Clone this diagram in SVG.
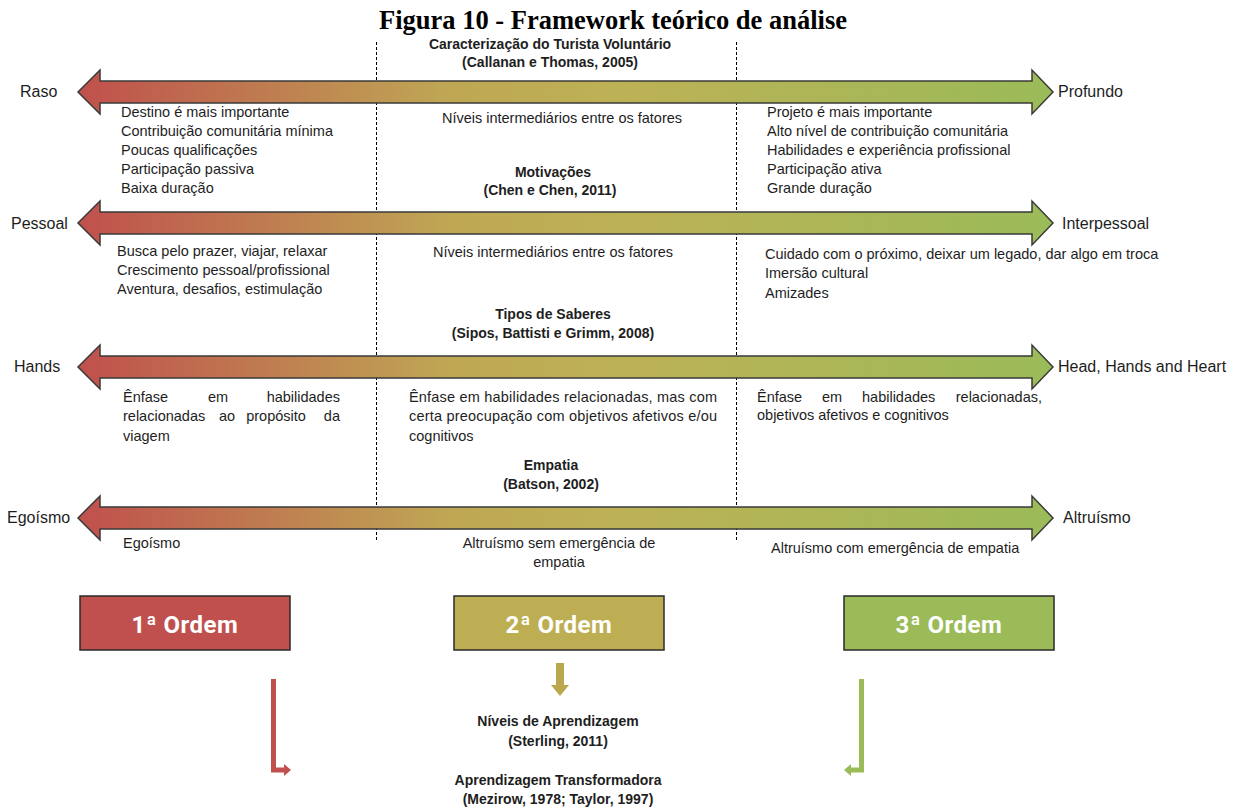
<svg xmlns="http://www.w3.org/2000/svg" width="1243" height="812" viewBox="0 0 1243 812">
  <defs>
    <!-- shared red→ochre→green fill for the four scale axes -->
    <linearGradient id="axisGrad" gradientUnits="userSpaceOnUse" x1="78" y1="0" x2="1053" y2="0">
      <stop offset="0" stop-color="#C0504D"/>
      <stop offset="0.38" stop-color="#BFA754"/>
      <stop offset="0.55" stop-color="#BDB155"/>
      <stop offset="1" stop-color="#9BBB59"/>
    </linearGradient>
    <style>
      .axis { fill: url(#axisGrad); stroke: #3a3a3a; stroke-width: 1.5; stroke-linejoin: miter; }
      .t { font-family: "Liberation Sans", Arial, sans-serif; font-size: 14.5px; fill: #1e1e1e; }
      .side { font-family: "Liberation Sans", Arial, sans-serif; font-size: 16px; fill: #1e1e1e; }
      .h { font-family: "Liberation Sans", Arial, sans-serif; font-size: 14px; font-weight: bold; fill: #1e1e1e; text-anchor: middle; }
      .c { text-anchor: middle; }
      .e { text-anchor: end; }
      .title { font-family: "Liberation Serif", "Times New Roman", serif; font-size: 26.5px; font-weight: bold; fill: #000; text-anchor: middle; }
      .box { stroke: #2a2a2a; stroke-width: 1.5; }
      .boxlabel { font-family: Roboto, "Liberation Sans", Arial, sans-serif; font-size: 24px; font-weight: bold; fill: #ffffff; text-anchor: middle; letter-spacing: 0.5px; }
      .divider { stroke: #000; stroke-width: 1; stroke-dasharray: 3 2; fill: none; }
    </style>
  </defs>

  <rect width="1243" height="812" fill="#ffffff"/>

  <text class="title" x="613" y="29">Figura 10 - Framework teórico de análise</text>

  <!-- column dividers -->
  <g id="dividers">
    <line class="divider" x1="376.5" y1="42" x2="376.5" y2="540"/>
    <line class="divider" x1="736.5" y1="42" x2="736.5" y2="540"/>
  </g>

  <!-- Axis 1: tourist characterisation -->
  <g id="axis-caracterizacao">
    <text class="h" x="550" y="49">Caracterização do Turista Voluntário</text>
    <text class="h" x="550" y="67">(Callanan e Thomas, 2005)</text>
    <path class="axis" d="M78,92 L100,70 L100,81 L1032,81 L1032,70 L1053,92 L1032,114 L1032,103 L100,103 L100,114 Z"/>
    <text class="side" x="20" y="97">Raso</text>
    <text class="side" x="1058" y="97">Profundo</text>
    <text class="t" x="121" y="117">Destino é mais importante</text>
    <text class="t" x="121" y="136">Contribuição comunitária mínima</text>
    <text class="t" x="121" y="155">Poucas qualificações</text>
    <text class="t" x="121" y="174">Participação passiva</text>
    <text class="t" x="121" y="193">Baixa duração</text>
    <text class="t c" x="562" y="123">Níveis intermediários entre os fatores</text>
    <text class="t" x="767" y="117">Projeto é mais importante</text>
    <text class="t" x="767" y="136">Alto nível de contribuição comunitária</text>
    <text class="t" x="767" y="155">Habilidades e experiência profissional</text>
    <text class="t" x="767" y="174">Participação ativa</text>
    <text class="t" x="767" y="193">Grande duração</text>
  </g>

  <!-- Axis 2: motivations -->
  <g id="axis-motivacoes">
    <text class="h" x="553" y="177">Motivações</text>
    <text class="h" x="550" y="195">(Chen e Chen, 2011)</text>
    <path class="axis" d="M78,223 L100,201 L100,212 L1032,212 L1032,201 L1053,223 L1032,245 L1032,234 L100,234 L100,245 Z"/>
    <text class="side" x="11" y="229">Pessoal</text>
    <text class="side" x="1062" y="229">Interpessoal</text>
    <text class="t" x="117" y="256">Busca pelo prazer, viajar, relaxar</text>
    <text class="t" x="117" y="275">Crescimento pessoal/profissional</text>
    <text class="t" x="117" y="294">Aventura, desafios, estimulação</text>
    <text class="t c" x="553" y="257">Níveis intermediários entre os fatores</text>
    <text class="t" x="765" y="259">Cuidado com o próximo, deixar um legado, dar algo em troca</text>
    <text class="t" x="765" y="278">Imersão cultural</text>
    <text class="t" x="765" y="298">Amizades</text>
  </g>

  <!-- Axis 3: types of knowledge -->
  <g id="axis-saberes">
    <text class="h" x="553" y="319">Tipos de Saberes</text>
    <text class="h" x="553" y="338">(Sipos, Battisti e Grimm, 2008)</text>
    <path class="axis" d="M78,367 L100,345 L100,356 L1032,356 L1032,345 L1053,367 L1032,389 L1032,378 L100,378 L100,389 Z"/>
    <text class="side" x="14" y="372">Hands</text>
    <text class="side" x="1058" y="372">Head, Hands and Heart</text>
    <!-- justified paragraph, left column -->
    <text class="t" x="123" y="402">Ênfase</text>
    <text class="t" x="208" y="402">em</text>
    <text class="t e" x="340" y="402">habilidades</text>
    <text class="t" x="123" y="421">relacionadas</text>
    <text class="t c" x="227" y="421">ao</text>
    <text class="t c" x="276" y="421">propósito</text>
    <text class="t e" x="340" y="421">da</text>
    <text class="t" x="123" y="441">viagem</text>
    <!-- justified paragraph, middle column -->
    <text class="t" x="409" y="402" textLength="308" lengthAdjust="spacing">Ênfase em habilidades relacionadas, mas com</text>
    <text class="t" x="409" y="421" textLength="308" lengthAdjust="spacing">certa preocupação com objetivos afetivos e/ou</text>
    <text class="t" x="409" y="441">cognitivos</text>
    <!-- justified paragraph, right column -->
    <text class="t" x="757" y="402">Ênfase</text>
    <text class="t" x="822" y="402">em</text>
    <text class="t" x="862" y="402">habilidades</text>
    <text class="t e" x="1042" y="402">relacionadas,</text>
    <text class="t" x="757" y="420">objetivos afetivos e cognitivos</text>
  </g>

  <!-- Axis 4: empathy -->
  <g id="axis-empatia">
    <text class="h" x="551" y="470">Empatia</text>
    <text class="h" x="551" y="489">(Batson, 2002)</text>
    <path class="axis" d="M78,518 L100,496 L100,507 L1032,507 L1032,496 L1053,518 L1032,540 L1032,529 L100,529 L100,540 Z"/>
    <text class="side" x="7" y="523">Egoísmo</text>
    <text class="side" x="1063" y="523">Altruísmo</text>
    <text class="t" x="123" y="548">Egoísmo</text>
    <text class="t c" x="559" y="548">Altruísmo sem emergência de</text>
    <text class="t c" x="559" y="567">empatia</text>
    <text class="t" x="771" y="553">Altruísmo com emergência de empatia</text>
  </g>

  <!-- learning-order boxes -->
  <g id="ordem-1">
    <rect class="box" x="80" y="596" width="210" height="54" fill="#C0504D"/>
    <text class="boxlabel" x="185" y="633">1ª Ordem</text>
  </g>
  <g id="ordem-2">
    <rect class="box" x="454" y="596" width="210" height="54" fill="#BEAE53"/>
    <text class="boxlabel" x="559" y="633">2ª Ordem</text>
  </g>
  <g id="ordem-3">
    <rect class="box" x="844" y="596" width="210" height="54" fill="#9BBB59"/>
    <text class="boxlabel" x="949" y="633">3ª Ordem</text>
  </g>

  <g id="aprendizagem">
    <text class="h" x="558" y="726">Níveis de Aprendizagem</text>
    <text class="h" x="558" y="746">(Sterling, 2011)</text>
    <text class="h" x="558" y="785">Aprendizagem Transformadora</text>
    <text class="h" x="558" y="804">(Mezirow, 1978; Taylor, 1997)</text>
  </g>

  <!-- arrows leading from the order boxes -->
  <g id="connectors">
    <path fill="#C0504D" d="M271,679 L276,679 L276,767.5 L284,767.5 L284,764 L291,770 L284,776 L284,772.5 L271,772.5 Z"/>
    <path fill="#BBA84E" d="M556,663 L564,663 L564,685 L569,685 L560,696 L551,685 L556,685 Z"/>
    <path fill="#9BBB59" d="M864,679 L859,679 L859,767.5 L851,767.5 L851,764 L844,770 L851,776 L851,772.5 L864,772.5 Z"/>
  </g>
</svg>
